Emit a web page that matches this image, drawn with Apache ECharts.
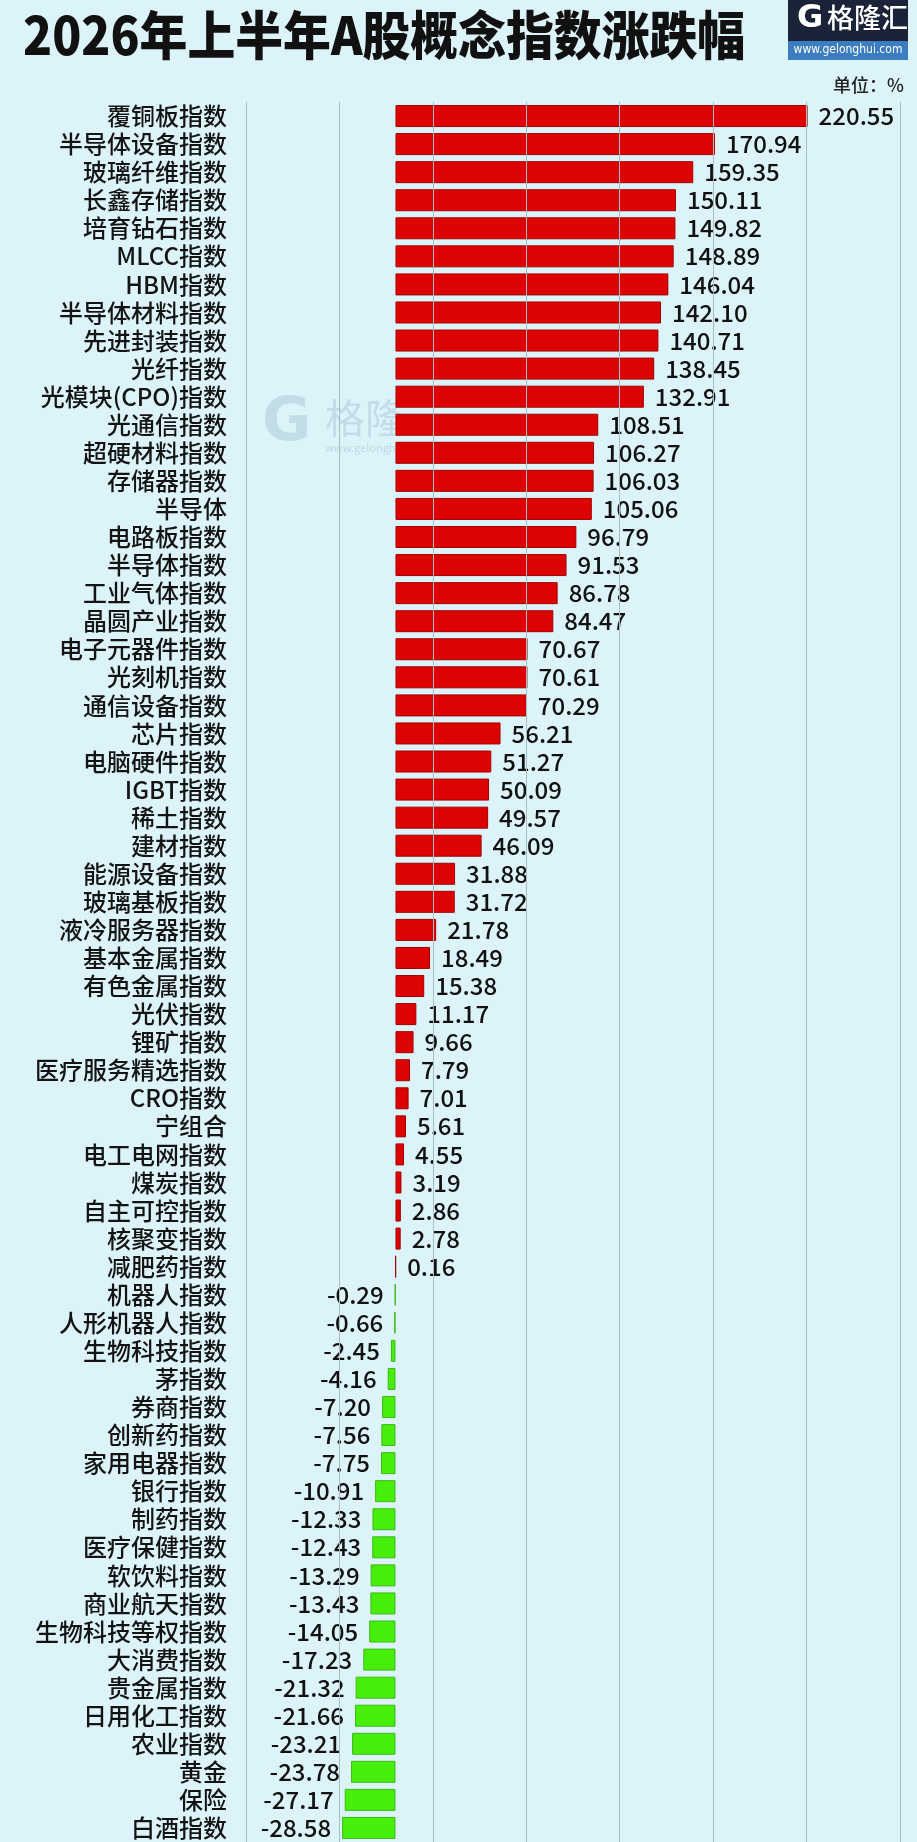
<!DOCTYPE html>
<html>
<head>
<meta charset="utf-8">
<script src="https://cdn.jsdelivr.net/npm/echarts@6/dist/echarts.min.js"></script>
<style>
html,body{margin:0;padding:0;background:#dcf4f9;}
#chart{width:917px;height:1842px;}
</style>
</head>
<body>
<div id="chart"></div>
<script>
const categories = [
  '覆铜板指数','半导体设备指数','玻璃纤维指数','长鑫存储指数','培育钻石指数','MLCC指数','HBM指数','半导体材料指数',
  '先进封装指数','光纤指数','光模块(CPO)指数','光通信指数','超硬材料指数','存储器指数','半导体','电路板指数',
  '半导体指数','工业气体指数','晶圆产业指数','电子元器件指数','光刻机指数','通信设备指数','芯片指数','电脑硬件指数',
  'IGBT指数','稀土指数','建材指数','能源设备指数','玻璃基板指数','液冷服务器指数','基本金属指数','有色金属指数',
  '光伏指数','锂矿指数','医疗服务精选指数','CRO指数','宁组合','电工电网指数','煤炭指数','自主可控指数',
  '核聚变指数','减肥药指数','机器人指数','人形机器人指数','生物科技指数','茅指数','券商指数','创新药指数',
  '家用电器指数','银行指数','制药指数','医疗保健指数','软饮料指数','商业航天指数','生物科技等权指数','大消费指数',
  '贵金属指数','日用化工指数','农业指数','黄金','保险','白酒指数'
];
const values = [
  220.55,170.94,159.35,150.11,149.82,148.89,146.04,142.10,
  140.71,138.45,132.91,108.51,106.27,106.03,105.06,96.79,
  91.53,86.78,84.47,70.67,70.61,70.29,56.21,51.27,
  50.09,49.57,46.09,31.88,31.72,21.78,18.49,15.38,
  11.17,9.66,7.79,7.01,5.61,4.55,3.19,2.86,
  2.78,0.16,-0.29,-0.66,-2.45,-4.16,-7.20,-7.56,
  -7.75,-10.91,-12.33,-12.43,-13.29,-13.43,-14.05,-17.23,
  -21.32,-21.66,-23.21,-23.78,-27.17,-28.58
];
const gridValues = [-80,-30,20,70,120,170,220,270];
const axisMin = -80, axisMax = 270;

const FONT = '"Noto Sans CJK SC","Noto Sans",sans-serif';
const chart = echarts.init(document.getElementById('chart'), null, {renderer:'canvas'});

const barData = values.map(v => ({
  value: v,
  itemStyle: v >= 0
    ? {color:'#dd0303', borderColor:'#a10000', borderWidth:1}
    : {color:'#47ee0a', borderColor:'#3cb81a', borderWidth:1},
  label: {position: v >= 0 ? 'right' : 'left'}
}));

chart.setOption({
  backgroundColor:'#dcf4f9',
  animation:false,
  textStyle:{fontFamily:FONT},
  grid:{left:246, right:17, top:102, height:1746, containLabel:false},
  xAxis:{
    type:'value', min:axisMin, max:axisMax,
    axisLabel:{show:false}, axisLine:{show:false}, axisTick:{show:false}, splitLine:{show:false}
  },
  yAxis:{
    type:'category', inverse:true, data:categories,
    axisLine:{show:false}, axisTick:{show:false},
    axisLabel:{interval:0, fontSize:24, fontWeight:500, color:'#141414', margin:19, fontFamily:FONT}
  },
  series:[
    {
      type:'line', data:[], z:1, silent:true,
      markLine:{
        silent:true, symbol:'none', animation:false,
        label:{show:false},
        lineStyle:{color:'#a8bcc1', width:1, type:'solid'},
        data: gridValues.map(v => ({xAxis:v}))
      }
    },
    {
      type:'bar', data:barData, barWidth:22, z:3,
      label:{
        show:true, distance:11, fontSize:24, fontWeight:500, color:'#111', fontFamily:FONT,
        formatter: p => p.value.toFixed(2)
      }
    }
  ],
  graphic:[
    {type:'text', x:23, y:9, scaleX:0.92, z:10,
     style:{text:'2026年上半年A股概念指数涨跌幅', fontSize:52, fontWeight:900, fill:'#111', fontFamily:FONT}},
    // logo
    {type:'rect', shape:{x:788, y:0, width:120, height:41}, style:{fill:'#1b2339'}, z:10},
    {type:'rect', shape:{x:788, y:41, width:120, height:19}, style:{fill:'#3c7cc0'}, z:10},
    {type:'text', x:797, y:3, z:11, style:{text:'G', fontSize:32, fontWeight:'bold', fill:'#ffffff', fontFamily:'"DejaVu Sans",sans-serif'}},
    {type:'text', x:827, y:4, z:11, style:{text:'格隆汇', fontSize:27, fontWeight:500, fill:'#ffffff', fontFamily:FONT}},
    {type:'text', x:848, y:50, z:11, style:{text:'www.gelonghui.com', fontSize:12, fill:'#ffffff', align:'center', verticalAlign:'middle', fontFamily:'"DejaVu Sans Condensed",sans-serif'}},
    {type:'text', x:904, y:85, z:11, style:{text:'单位：%', fontSize:18, fontWeight:500, fill:'#222', align:'right', verticalAlign:'middle', fontFamily:FONT}},
    // faint watermark
    {type:'text', x:262, y:394, z:0, style:{text:'G', fontSize:60, fontWeight:'bold', fill:'rgba(120,150,175,0.25)', fontFamily:'"DejaVu Sans",sans-serif'}},
    {type:'text', x:325, y:398, z:0, style:{text:'格隆', fontSize:40, fill:'rgba(120,150,175,0.25)', fontFamily:FONT}},
    {type:'text', x:325, y:442, z:0, style:{text:'www.gelonghui', fontSize:11, fill:'rgba(120,150,175,0.3)', fontFamily:FONT}}
  ]
});
</script>
</body>
</html>
